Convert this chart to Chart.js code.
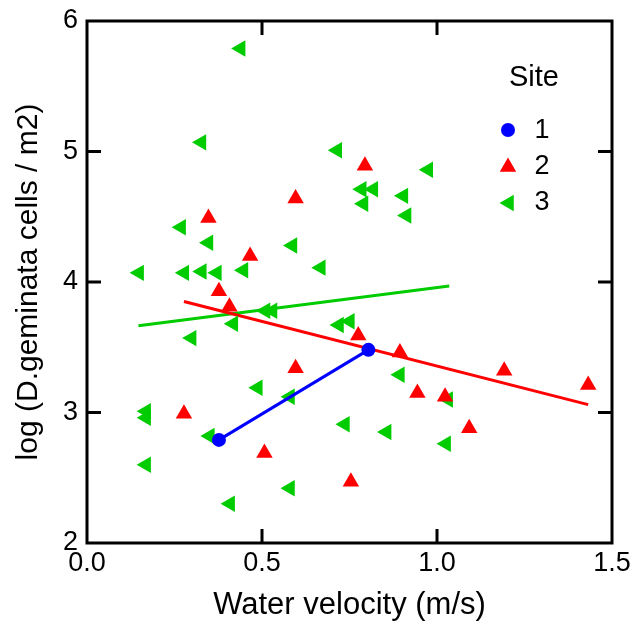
<!DOCTYPE html>
<html>
<head>
<meta charset="utf-8">
<script src="https://cdn.jsdelivr.net/npm/chart.js@4.4.0/dist/chart.umd.min.js"></script>
<style>
  html, body { margin: 0; padding: 0; background: #fff; }
  canvas { display: block; }
</style>
</head>
<body>
<canvas id="grafico" width="630" height="624"></canvas>
<script>
const xTicks = [0, 0.5, 1.0, 1.5];
const yTicks = [2, 3, 4, 5, 6];

const site1X = [0.377, 0.804];
const site1Y = [2.79, 3.48];

const site2X = [0.596, 0.347, 0.466, 0.794, 0.377, 0.407, 0.596, 0.277, 0.507, 0.754, 0.775, 0.894, 1.192, 1.432, 0.944, 1.023, 1.092];
const site2Y = [4.64, 4.49, 4.20, 4.89, 3.93, 3.81, 3.34, 2.99, 2.69, 2.47, 3.59, 3.46, 3.32, 3.21, 3.15, 3.12, 2.88];

const site3X = [0.439, 0.327, 0.715, 0.269, 0.347, 0.587, 0.668, 0.149, 0.278, 0.328, 0.371, 0.447, 0.975, 0.785, 0.818, 0.79, 0.904, 0.913, 0.51, 0.53, 0.418, 0.72, 0.751, 0.299, 0.488, 0.58, 0.169, 0.169, 0.351, 0.58, 0.409, 0.894, 1.032, 0.737, 0.856, 1.026, 0.169];
const site3Y = [5.79, 5.07, 5.01, 4.42, 4.30, 4.28, 4.11, 4.07, 4.07, 4.08, 4.07, 4.09, 4.86, 4.71, 4.71, 4.60, 4.66, 4.51, 3.78, 3.78, 3.68, 3.67, 3.70, 3.57, 3.19, 3.12, 3.01, 2.96, 2.82, 2.42, 2.30, 3.29, 3.10, 2.91, 2.85, 2.76, 2.60];

// rectas de ajuste (extremos)
const fit2X = [0.277, 1.432];
const fit2Y = [3.85, 3.06];
const fit3X = [0.147, 1.035];
const fit3Y = [3.665, 3.97];

const legendLabels = ["1", "2", "3"];

const AZUL = "#0000ff";
const ROJO = "#ff0000";
const VERDE = "#00cc00";
const FUENTE = "'Liberation Sans', Arial, sans-serif";

function puntos(xs, ys) {
  return xs.map((x, i) => ({ x: x, y: ys[i] }));
}

function triangulo(ctx, cx, cy, r, grados) {
  let rad = grados * Math.PI / 180;
  ctx.beginPath();
  for (let k = 0; k < 3; k++) {
    const px = cx + Math.sin(rad) * r;
    const py = cy - Math.cos(rad) * r;
    if (k === 0) ctx.moveTo(px, py); else ctx.lineTo(px, py);
    rad += 2 * Math.PI / 3;
  }
  ctx.closePath();
  ctx.fill();
}

const marco = {
  id: "marco",
  afterDraw(chart) {
    const ctx = chart.ctx;
    const a = chart.chartArea;
    const sx = chart.scales.x;
    const sy = chart.scales.y;
    ctx.save();
    ctx.strokeStyle = "#000";
    ctx.lineWidth = 3;
    ctx.strokeRect(a.left, a.top, a.right - a.left, a.bottom - a.top);
    ctx.beginPath();
    xTicks.slice(1, -1).forEach(v => {
      const px = sx.getPixelForValue(v);
      ctx.moveTo(px, a.bottom); ctx.lineTo(px, a.bottom - 14);
      ctx.moveTo(px, a.top); ctx.lineTo(px, a.top + 14);
    });
    yTicks.slice(1, -1).forEach(v => {
      const py = sy.getPixelForValue(v);
      ctx.moveTo(a.left, py); ctx.lineTo(a.left + 14, py);
      ctx.moveTo(a.right, py); ctx.lineTo(a.right - 14, py);
    });
    ctx.stroke();

    // leyenda
    ctx.fillStyle = "#000";
    ctx.textAlign = "center";
    ctx.textBaseline = "middle";
    ctx.font = "29px " + FUENTE;
    ctx.fillText("Site", 534, 78);
    ctx.font = "27px " + FUENTE;
    const filas = [131, 167, 203];
    legendLabels.forEach((t, i) => ctx.fillText(t, 542, filas[i]));
    ctx.fillStyle = AZUL;
    ctx.beginPath();
    ctx.arc(508, 130, 7, 0, Math.PI * 2);
    ctx.fill();
    ctx.fillStyle = ROJO;
    triangulo(ctx, 508, 167, 9.5, 0);
    ctx.fillStyle = VERDE;
    triangulo(ctx, 509, 203, 9.5, -90);
    ctx.restore();
  }
};

new Chart(document.getElementById("grafico"), {
  type: "scatter",
  data: {
    datasets: [
      { label: "1", data: puntos(site1X, site1Y), showLine: true, borderColor: AZUL, borderWidth: 3,
        backgroundColor: AZUL, pointStyle: "circle", pointRadius: 7, pointBorderWidth: 0, order: 1 },
      { label: "2", data: puntos(site2X, site2Y), backgroundColor: ROJO, pointStyle: "triangle",
        pointRadius: 9.5, pointBorderWidth: 0, order: 2 },
      { label: "3", data: puntos(site3X, site3Y), backgroundColor: VERDE, pointStyle: "triangle",
        rotation: -90, pointRadius: 9.5, pointBorderWidth: 0, order: 3 },
      { label: "ajuste 2", data: puntos(fit2X, fit2Y), showLine: true, borderColor: ROJO, borderWidth: 3,
        pointRadius: 0, order: 4 },
      { label: "ajuste 3", data: puntos(fit3X, fit3Y), showLine: true, borderColor: VERDE, borderWidth: 3,
        pointRadius: 0, order: 5 }
    ]
  },
  options: {
    responsive: false,
    animation: false,
    events: [],
    layout: { padding: { left: 0, top: 21, right: 18, bottom: 0 } },
    plugins: { legend: { display: false }, tooltip: { enabled: false } },
    scales: {
      x: {
        type: "linear", min: 0, max: 1.5,
        afterBuildTicks: s => { s.ticks = xTicks.map(v => ({ value: v })); },
        afterFit: s => { s.height = 81; s.paddingLeft = 0; s.paddingRight = 0; },
        grid: { display: false, drawTicks: false },
        border: { display: false },
        ticks: { color: "#000", padding: 4, maxRotation: 0, font: { family: FUENTE, size: 27 },
          callback: v => v.toFixed(1) },
        title: { display: true, text: "Water velocity (m/s)", color: "#000",
          font: { family: FUENTE, size: 31 }, padding: { top: 0, bottom: 0 } }
      },
      y: {
        type: "linear", min: 2, max: 6,
        afterBuildTicks: s => { s.ticks = yTicks.map(v => ({ value: v })); },
        afterFit: s => { s.width = 87; s.paddingTop = 0; s.paddingBottom = 0; },
        grid: { display: false, drawTicks: false },
        border: { display: false },
        ticks: { color: "#000", padding: 9, font: { family: FUENTE, size: 27 } },
        title: { display: true, text: "log (D.geminata cells / m2)", color: "#000",
          font: { family: FUENTE, size: 30 }, padding: { top: 11, bottom: 0 } }
      }
    }
  },
  plugins: [marco]
});
</script>
</body>
</html>
